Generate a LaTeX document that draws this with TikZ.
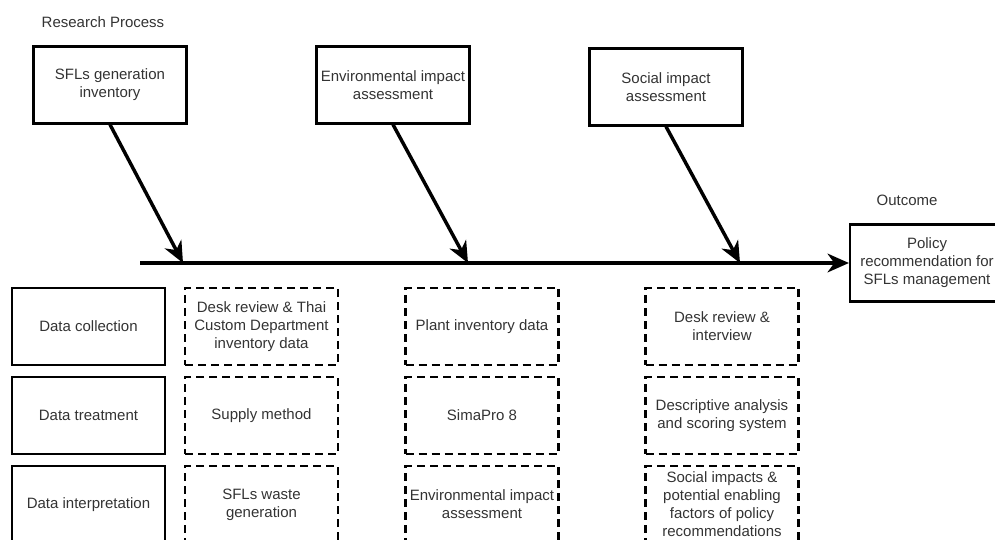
\documentclass[tikz,border=0pt]{standalone}
\usepackage{fontspec}
\setmainfont{Liberation Sans}
\usetikzlibrary{arrows.meta}
\definecolor{txtgray}{HTML}{333333}

\begin{document}
\begin{tikzpicture}[x=0.75pt,y=-0.75pt,
  lbl/.style={text=txtgray,inner sep=0pt,font=\fontsize{11.25}{13.5}\selectfont},
  box/.style={lbl,draw,line width=1.6pt,align=center,minimum width=114.75pt,minimum height=57.75pt},
  dbox/.style={box,dash pattern=on 6pt off 3.75pt},
  bone/.style={line width=2.6pt,-{Stealth[length=16pt,width=14pt,inset=5pt]}}]
\useasboundingbox (0,0) rectangle (995,539);
% process boxes on top
\node[lbl] (rp) at (103,22) {Research Process};
\node[box] (sfl) at (110,85) {SFLs generation\\inventory};
\node[box] (env) at (393,85) {Environmental impact\\assessment};
\node[box] (soc) at (666,87) {Social impact\\assessment};
% outcome
\node[lbl] (oc) at (907,200) {Outcome};
\node[box,minimum width=115.5pt] (pol) at (927,263) {Policy\\recommendation for\\SFLs management};
% spine
\coordinate (s0) at (140,263);
\coordinate (j1) at (183,263);
\coordinate (j2) at (468,263);
\coordinate (j3) at (740,263);
\draw[bone,line width=3pt] (s0) -- (pol.west);
\draw[bone] (sfl.south) -- (j1);
\draw[bone] (env.south) -- (j2);
\draw[bone] (soc.south) -- (j3);
% steps
\node[box] (dc) at (88.5,326.5) {Data collection};
\node[box] (dt) at (88.5,415.5) {Data treatment};
\node[box] (di) at (88.5,504.5) {Data interpretation};
% column 1
\node[dbox] (c1a) at (261.5,326.5) {Desk review \& Thai\\Custom Department\\inventory data};
\node[dbox] (c1b) at (261.5,415.5) {Supply method};
\node[dbox] (c1c) at (261.5,504.5) {SFLs waste\\generation};
% column 2
\node[dbox] (c2a) at (482,326.5) {Plant inventory data};
\node[dbox] (c2b) at (482,415.5) {SimaPro 8};
\node[dbox] (c2c) at (482,504.5) {Environmental impact\\assessment};
% column 3
\node[dbox] (c3a) at (722,326.5) {Desk review \&\\interview};
\node[dbox] (c3b) at (722,415.5) {Descriptive analysis\\and scoring system};
\node[dbox] (c3c) at (722,504.5) {Social impacts \&\\potential enabling\\factors of policy\\recommendations};
\end{tikzpicture}
\end{document}
